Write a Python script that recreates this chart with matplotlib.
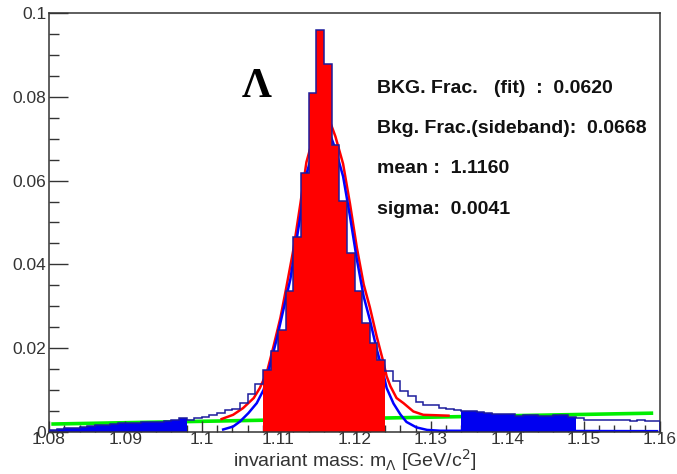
import numpy as np
import matplotlib
matplotlib.use("Agg")
import matplotlib.pyplot as plt
from matplotlib.ticker import MultipleLocator, FormatStrFormatter

# histogram: 80 bins of 1 MeV from 1.080 to 1.160
bin_lo = 1.080
bin_w = 0.001
counts = [
    # 1.080 - 1.097 (left sideband)
    0.0005, 0.0008, 0.0009, 0.0010, 0.0011, 0.0014, 0.0016, 0.0017, 0.0018,
    0.0021, 0.0022, 0.0022, 0.0023, 0.0025, 0.0025, 0.0026, 0.0029, 0.0033,
    # 1.098 - 1.107
    0.0029, 0.0033, 0.0037, 0.0041, 0.0045, 0.0052, 0.0055, 0.0070, 0.0091, 0.0114,
    # 1.108 - 1.123 (signal window)
    0.0149, 0.0194, 0.0243, 0.0336, 0.0465, 0.0619, 0.0808, 0.0960,
    0.0878, 0.0684, 0.0552, 0.0427, 0.0336, 0.0261, 0.0213, 0.0173,
    # 1.124 - 1.133
    0.0145, 0.0121, 0.0097, 0.0085, 0.0071, 0.0065, 0.0065, 0.0057, 0.0055, 0.0053,
    # 1.134 - 1.148 (right sideband)
    0.0051, 0.0049, 0.0047, 0.0046, 0.0044, 0.0043, 0.0042, 0.0038,
    0.0040, 0.0040, 0.0039, 0.0039, 0.0041, 0.0040, 0.0036,
    # 1.149 - 1.159
    0.0033, 0.0029, 0.0029, 0.0029, 0.0029, 0.0029, 0.0029, 0.0027, 0.0029, 0.0027, 0.0027,
]
signal_win = (1.108, 1.124)
sidebands = [(1.080, 1.098), (1.134, 1.149)]

# total fit (red)
tot_x = [1.1026, 1.1041, 1.1054, 1.1068, 1.1076, 1.1085, 1.1094, 1.1103, 1.1111,
         1.1120, 1.1129, 1.1137, 1.1147, 1.1161, 1.1175, 1.1185, 1.1194, 1.1203,
         1.1212, 1.1220, 1.1229, 1.1238, 1.1242, 1.1247, 1.1255, 1.1264, 1.1277,
         1.1290, 1.1323]
tot_y = [0.0031, 0.0041, 0.0057, 0.0081, 0.0105, 0.0141, 0.0205, 0.0273, 0.0348,
         0.0436, 0.0544, 0.0644, 0.0710, 0.0775, 0.0705, 0.0640, 0.0545, 0.0440,
         0.0352, 0.0298, 0.0228, 0.0165, 0.0133, 0.0109, 0.0081, 0.0069, 0.0049,
         0.0041, 0.0039]

# signal gaussian (blue)
sig_x = [1.1028, 1.1041, 1.1050, 1.1061, 1.1072, 1.1081, 1.1089, 1.1098, 1.1107,
         1.1116, 1.1129, 1.1137, 1.1147, 1.1161, 1.1175, 1.1185, 1.1194, 1.1203,
         1.1212, 1.1220, 1.1229, 1.1238, 1.1242, 1.1251, 1.1260, 1.1268, 1.1281,
         1.1295, 1.1312, 1.1596]
sig_y = [0.0006, 0.0013, 0.0025, 0.0045, 0.0069, 0.0101, 0.0157, 0.0221, 0.0293,
         0.0365, 0.0515, 0.0615, 0.0680, 0.0745, 0.0675, 0.0610, 0.0515, 0.0412,
         0.0323, 0.0268, 0.0198, 0.0137, 0.0105, 0.0068, 0.0042, 0.0024, 0.0011,
         0.0005, 0.0003, 0.0002]

# linear background (green)
bkg_x = [1.0803, 1.1591]
bkg_y = [0.0019, 0.0045]

fit_text = [
    "BKG. Frac.   (fit)  :  0.0620",
    "Bkg. Frac.(sideband):  0.0668",
    "mean :  1.1160",
    "sigma:  0.0041",
]

counts = np.array(counts)
edges = np.round(bin_lo + bin_w * np.arange(len(counts) + 1), 4)
centers = 0.5 * (edges[:-1] + edges[1:])

fig = plt.figure(figsize=(6.77, 4.74), dpi=100)
ax = fig.add_axes([0.0724, 0.0886, 0.9026, 0.884])

ax.plot(bkg_x, bkg_y, color="#00ee00", lw=2.6, zorder=1, solid_capstyle="butt")
ax.plot(tot_x, tot_y, color="#ff0000", lw=1.8, zorder=1.5)
ax.plot(sig_x, sig_y, color="#0000ff", lw=1.8, zorder=1.6)

# signal window in red, sidebands in blue
m = (centers > signal_win[0]) & (centers < signal_win[1])
i0, i1 = np.where(m)[0][[0, -1]]
ax.stairs(counts[i0:i1 + 1], edges[i0:i1 + 2], fill=True, color="#ff0000", zorder=2)
for lo, hi in sidebands:
    m = (centers > lo) & (centers < hi)
    i0, i1 = np.where(m)[0][[0, -1]]
    ax.stairs(counts[i0:i1 + 1], edges[i0:i1 + 2], fill=True, color="#0000f0", zorder=2)

ax.stairs(counts, edges, color="#1c1c9c", lw=1.1, zorder=3)

ax.set_xlim(1.08, 1.16)
ax.set_ylim(0, 0.1)

ax.xaxis.set_major_locator(MultipleLocator(0.01))
ax.xaxis.set_minor_locator(MultipleLocator(0.002))
ax.yaxis.set_major_locator(MultipleLocator(0.02))
ax.yaxis.set_minor_locator(MultipleLocator(0.005))
ax.xaxis.set_major_formatter(FormatStrFormatter("%g"))
ax.yaxis.set_major_formatter(FormatStrFormatter("%g"))
ax.tick_params(which="both", direction="in", top=False, right=False,
               color="#333333", width=1.0, labelsize=12.5, labelcolor="#333333")
ax.tick_params(axis="y", which="major", length=14, pad=2)
ax.tick_params(axis="y", which="minor", length=7)
ax.tick_params(axis="x", which="major", length=8, pad=0)
ax.tick_params(axis="x", which="minor", length=5)
for lab in ax.get_xticklabels() + ax.get_yticklabels():
    lab.set_family("Liberation Sans")
for s in ax.spines.values():
    s.set_color("#333333")
    s.set_linewidth(1.1)

ax.set_xlabel(r"invariant mass: m$_{\Lambda}$ [GeV/c$^{2}$]", fontsize=14,
              family="Liberation Sans", color="#333333", labelpad=0)

ax.text(1.1072, 0.0823, "Λ", fontsize=30, fontweight="bold", family="Liberation Serif",
        ha="center", va="center", color="black")

for k, line in enumerate(fit_text):
    ax.text(1.1229, 0.0820 - 0.0096 * k, line, fontsize=14, fontweight="bold",
            family="Liberation Sans", ha="left", va="center", color="#111111")

fig.savefig("out.png", dpi=100)
